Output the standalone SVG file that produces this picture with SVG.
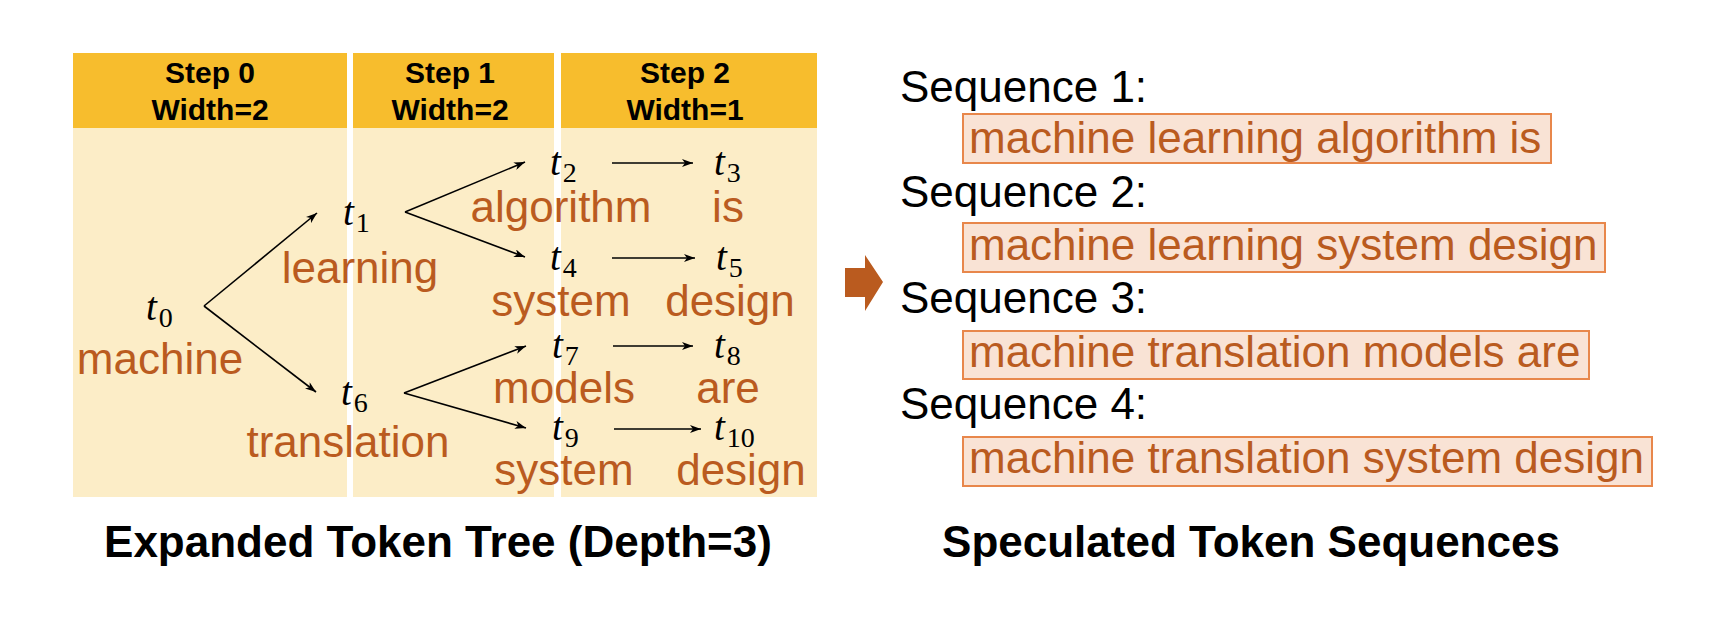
<svg xmlns="http://www.w3.org/2000/svg" width="1733" height="617" viewBox="0 0 1733 617">
<defs>
<style>
.hdr{fill:#F7BD2D}
.body{fill:#FCEDC7}
.ht{font-family:"Liberation Sans",Arial,sans-serif;font-weight:bold;font-size:30px;fill:#000;text-anchor:middle}
.word{font-family:"Liberation Sans",Arial,sans-serif;font-size:44px;fill:#BA5B1F;text-anchor:middle}
.tk{font-family:"Liberation Serif","Times New Roman",serif;font-size:39px;fill:#000}
.tk .i{font-style:italic}
.tk .s{font-size:28px}
.seq{font-family:"Liberation Sans",Arial,sans-serif;font-size:44px;fill:#000}
.box{fill:#F9E3D5;stroke:#E8874B;stroke-width:2}
.bt{font-family:"Liberation Sans",Arial,sans-serif;font-size:44px;fill:#BA5B1F}
.title{font-family:"Liberation Sans",Arial,sans-serif;font-weight:bold;font-size:44px;fill:#000;text-anchor:middle}
.conn line{stroke:#000;stroke-width:1.6;marker-end:url(#ah)}
</style>
<marker id="ah" markerUnits="userSpaceOnUse" markerWidth="12" markerHeight="8" refX="11" refY="4" orient="auto">
<path d="M0,0 L11,4 L0,8 L3,4 z" fill="#000"/>
</marker>
</defs>
<rect width="1733" height="617" fill="#fff"/>

<g id="columns">
<rect class="body" x="73" y="53" width="274" height="444"/>
<rect class="hdr" x="73" y="53" width="274" height="75"/>
<rect class="body" x="353" y="53" width="201" height="444"/>
<rect class="hdr" x="353" y="53" width="201" height="75"/>
<rect class="body" x="561" y="53" width="256" height="444"/>
<rect class="hdr" x="561" y="53" width="256" height="75"/>
<text class="ht" x="210" y="83">Step 0</text>
<text class="ht" x="210" y="120">Width=2</text>
<text class="ht" x="450" y="83">Step 1</text>
<text class="ht" x="450" y="120">Width=2</text>
<text class="ht" x="685" y="83">Step 2</text>
<text class="ht" x="685" y="120">Width=1</text>
</g>

<g id="connectors" class="conn">
<line x1="204" y1="306" x2="317" y2="213"/>
<line x1="204" y1="306" x2="316" y2="392"/>
<line x1="405" y1="212" x2="525" y2="162"/>
<line x1="405" y1="212" x2="525" y2="257"/>
<line x1="404" y1="393" x2="526" y2="346"/>
<line x1="404" y1="393" x2="526" y2="428"/>
<line x1="612" y1="163" x2="693" y2="163"/>
<line x1="612" y1="258" x2="695" y2="258"/>
<line x1="613" y1="346" x2="693" y2="346"/>
<line x1="614" y1="429" x2="701" y2="429"/>
</g>

<g id="node-t0"><text class="tk" x="146" y="320"><tspan class="i">t</tspan><tspan class="s" dx="2" dy="7">0</tspan></text><text class="word" x="160" y="374">machine</text></g>
<g id="node-t1"><text class="tk" x="343" y="225"><tspan class="i">t</tspan><tspan class="s" dx="2" dy="7">1</tspan></text><text class="word" x="360" y="283">learning</text></g>
<g id="node-t6"><text class="tk" x="341" y="405"><tspan class="i">t</tspan><tspan class="s" dx="2" dy="7">6</tspan></text><text class="word" x="348" y="457">translation</text></g>
<g id="node-t2"><text class="tk" x="550" y="175"><tspan class="i">t</tspan><tspan class="s" dx="2" dy="7">2</tspan></text><text class="word" x="561" y="222">algorithm</text></g>
<g id="node-t4"><text class="tk" x="550" y="270"><tspan class="i">t</tspan><tspan class="s" dx="2" dy="7">4</tspan></text><text class="word" x="561" y="316">system</text></g>
<g id="node-t7"><text class="tk" x="552" y="358"><tspan class="i">t</tspan><tspan class="s" dx="2" dy="7">7</tspan></text><text class="word" x="564" y="403">models</text></g>
<g id="node-t9"><text class="tk" x="552" y="440"><tspan class="i">t</tspan><tspan class="s" dx="2" dy="7">9</tspan></text><text class="word" x="564" y="485">system</text></g>
<g id="node-t3"><text class="tk" x="714" y="175"><tspan class="i">t</tspan><tspan class="s" dx="2" dy="7">3</tspan></text><text class="word" x="728" y="222">is</text></g>
<g id="node-t5"><text class="tk" x="716" y="270"><tspan class="i">t</tspan><tspan class="s" dx="2" dy="7">5</tspan></text><text class="word" x="730" y="316">design</text></g>
<g id="node-t8"><text class="tk" x="714" y="358"><tspan class="i">t</tspan><tspan class="s" dx="2" dy="7">8</tspan></text><text class="word" x="728" y="403">are</text></g>
<g id="node-t10"><text class="tk" x="714" y="440"><tspan class="i">t</tspan><tspan class="s" dx="2" dy="7">10</tspan></text><text class="word" x="741" y="485">design</text></g>

<g id="big-arrow">
<path d="M845,268 L865,268 L865,255 L883,282 L865,311 L865,297 L845,297 z" fill="#BA5B1F"/>
</g>

<g id="sequences">
<text class="seq" x="900" y="102">Sequence 1:</text>
<rect class="box" x="963" y="114" width="588" height="49"/>
<text class="bt" x="969" y="153">machine learning algorithm is</text>
<text class="seq" x="900" y="207">Sequence 2:</text>
<rect class="box" x="963" y="223" width="642" height="49"/>
<text class="bt" x="969" y="260">machine learning system design</text>
<text class="seq" x="900" y="313">Sequence 3:</text>
<rect class="box" x="963" y="331" width="626" height="48"/>
<text class="bt" x="969" y="367">machine translation models are</text>
<text class="seq" x="900" y="419">Sequence 4:</text>
<rect class="box" x="963" y="437" width="689" height="49"/>
<text class="bt" x="969" y="473">machine translation system design</text>
</g>

<g id="titles">
<text class="title" x="438" y="557">Expanded Token Tree (Depth=3)</text>
<text class="title" x="1251" y="557">Speculated Token Sequences</text>
</g>
</svg>
